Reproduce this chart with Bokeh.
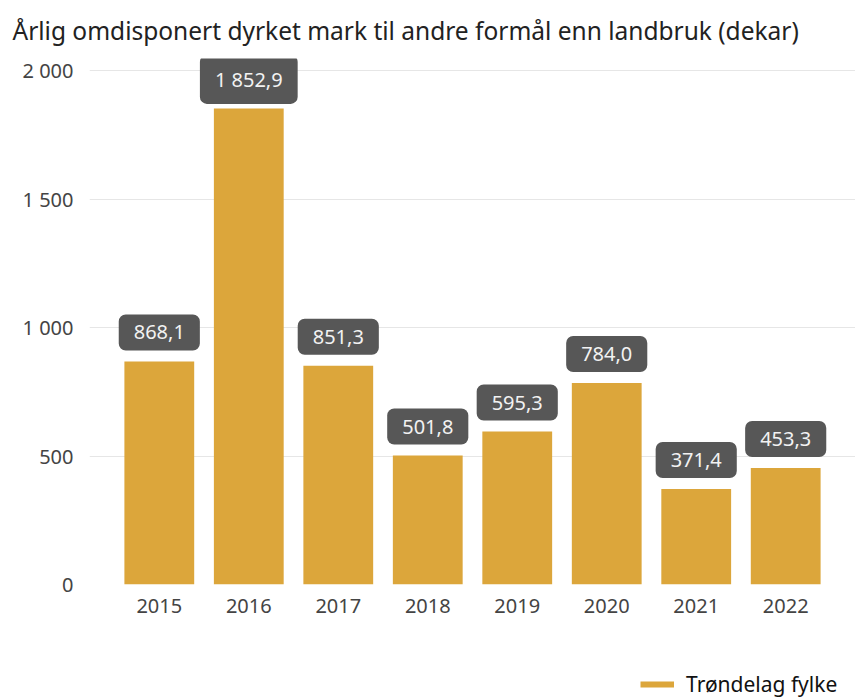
from bokeh.plotting import figure
from bokeh.models import ColumnDataSource, FactorRange, Range1d, Legend, LegendItem, FixedTicker
from bokeh.layouts import column
from bokeh.core.properties import value
from bokeh.embed import file_html
from bokeh.resources import INLINE

# ---- data ----
years = ["2015", "2016", "2017", "2018", "2019", "2020", "2021", "2022"]
values = [868.1, 1852.9, 851.3, 501.8, 595.3, 784.0, 371.4, 453.3]
value_labels = ["868,1", "1 852,9", "851,3", "501,8", "595,3", "784,0", "371,4", "453,3"]
y_ticks = [0, 500, 1000, 1500, 2000]
y_tick_labels = ["0", "500", "1 000", "1 500", "2 000"]
series_name = "Trøndelag fylke"
title_text = "Årlig omdisponert dyrket mark til andre formål enn landbruk (dekar)"

BAR = "#DCA63B"
FONT = "Noto Sans"
W = 855

src = ColumnDataSource(dict(year=years, value=values, label=value_labels))

p = figure(
    x_range=FactorRange(factors=years, range_padding=0.28, range_padding_units="absolute"),
    y_range=Range1d(0, 2047),
    width=W, height=640,
    output_backend="svg", toolbar_location=None,
    min_border_left=89, min_border_right=0, min_border_top=58, min_border_bottom=56,
)

p.title.text = title_text
p.title.text_font = FONT
p.title.text_font_size = "24.5px"
p.title.text_font_style = "normal"
p.title.text_color = "#222222"
p.title.text_line_height = 0.75
p.title.align = "left"
p.title.offset = -77
p.title.standoff = 23

p.vbar(x="year", top="value", width=0.78, source=src, color=BAR, line_color=None)

p.text(x="year", y="value", text="label", source=src,
       text_align="center", text_baseline="middle", y_offset=-29,
       text_font=value(FONT), text_font_size="20px", text_color="#F2F2F2",
       background_fill_color="#575757", padding=(15, 11), border_radius=7)

# axes
p.yaxis.ticker = FixedTicker(ticks=y_ticks)
p.yaxis.major_label_overrides = {t: l for t, l in zip(y_ticks, y_tick_labels)}
for ax in (p.xaxis[0], p.yaxis[0]):
    ax.axis_line_color = None
    ax.major_tick_line_color = None
    ax.minor_tick_line_color = None
    ax.major_label_text_font = FONT
    ax.major_label_text_font_size = "20px"
    ax.major_label_text_color = "#444444"
p.yaxis.major_label_standoff = 10
p.xaxis.major_label_standoff = 8

p.xgrid.grid_line_color = None
p.ygrid.grid_line_color = "#E6E6E6"
p.ygrid.grid_line_width = 1
p.outline_line_color = None
p.background_fill_color = "white"
p.border_fill_color = "white"

# ---- legend strip below the chart ----
lg = figure(width=W, height=58, output_backend="svg", toolbar_location=None,
            x_range=Range1d(0, 1), y_range=Range1d(0, 1),
            min_border=0, min_border_left=0, min_border_right=0,
            min_border_top=0, min_border_bottom=0)
lg.axis.visible = False
lg.grid.visible = False
lg.outline_line_color = None
lg.background_fill_color = "white"
lg.border_fill_color = "white"
# invisible dummy renderer (outside the view) that only supplies the legend swatch
legend_line = lg.line(x=[5], y=[5], line_color=BAR, line_width=6)
legend = Legend(items=[LegendItem(label=series_name, renderers=[legend_line])],
                location=(551, 0), orientation="horizontal",
                padding=0, margin=0, spacing=0,
                glyph_width=34, glyph_height=26, label_height=26,
                label_standoff=12, label_text_font_size="21px",
                label_text_color="#111111", border_line_alpha=0,
                background_fill_alpha=0)
legend.label_text_font = FONT
lg.add_layout(legend, "center")

layout = column(p, lg, spacing=0)

open("out.html", "w").write(file_html(layout, INLINE))
